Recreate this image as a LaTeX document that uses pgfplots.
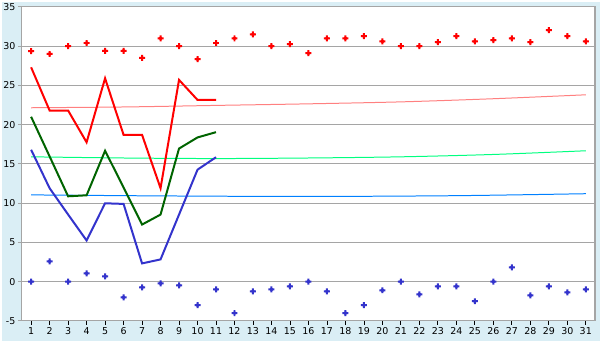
\documentclass[border=0pt]{standalone}
\usepackage{pgfplots}
\pgfplotsset{compat=1.18}
\usepackage{fontspec}
\setmainfont{DejaVu Sans}
\definecolor{bgc}{RGB}{218,238,245}
\definecolor{gridc}{RGB}{165,165,165}
\definecolor{redc}{RGB}{255,0,0}
\definecolor{greenc}{RGB}{0,100,0}
\definecolor{bluec}{RGB}{51,51,204}
\definecolor{pinkc}{RGB}{255,128,128}
\definecolor{lgreenc}{RGB}{0,255,128}
\definecolor{lbluec}{RGB}{0,128,255}
\pgfdeclareplotmark{fplus}{%
  \pgfpathmoveto{\pgfqpoint{-1pt}{-3pt}}%
  \pgfpathlineto{\pgfqpoint{1pt}{-3pt}}%
  \pgfpathlineto{\pgfqpoint{1pt}{-1pt}}%
  \pgfpathlineto{\pgfqpoint{3pt}{-1pt}}%
  \pgfpathlineto{\pgfqpoint{3pt}{1pt}}%
  \pgfpathlineto{\pgfqpoint{1pt}{1pt}}%
  \pgfpathlineto{\pgfqpoint{1pt}{3pt}}%
  \pgfpathlineto{\pgfqpoint{-1pt}{3pt}}%
  \pgfpathlineto{\pgfqpoint{-1pt}{1pt}}%
  \pgfpathlineto{\pgfqpoint{-3pt}{1pt}}%
  \pgfpathlineto{\pgfqpoint{-3pt}{-1pt}}%
  \pgfpathlineto{\pgfqpoint{-1pt}{-1pt}}%
  \pgfpathclose
  \pgfusepathqfill
  \pgfpathmoveto{\pgfqpoint{0pt}{-2.2pt}}%
  \pgfpathlineto{\pgfqpoint{2.2pt}{0pt}}%
  \pgfpathlineto{\pgfqpoint{0pt}{2.2pt}}%
  \pgfpathlineto{\pgfqpoint{-2.2pt}{0pt}}%
  \pgfpathclose
  \pgfusepathqfill
}
\begin{document}
\begin{tikzpicture}
\fill[bgc] (-20pt,-20pt) rectangle (580pt,320pt);
\begin{axis}[
  scale only axis,
  width=575pt, height=315pt,
  xmin=0.5, xmax=31.5, ymin=-5, ymax=35,
  xtick={1,...,31}, ytick={-5,0,...,35},
  axis background/.style={fill=white},
  axis line style={gridc, line width=1.2pt},
  ymajorgrids, grid style={gridc, line width=1.1pt},
  tick align=outside, major tick length=4pt,
  xtick style={black, line width=0.8pt},
  ytick style={gridc, line width=0.8pt},
  x axis line style={-}, y axis line style={-},
  axis x line*=bottom, axis y line*=left,
  tick label style={font=\fontsize{9.5}{11}\selectfont, text=black},
  xticklabel style={yshift=1pt},
  yticklabel style={xshift=1pt},
  /pgf/number format/assume math mode=true,
  clip=false,
]
% frame (top and right)
\draw[gridc, line width=1.2pt] (rel axis cs:0,1) -- (rel axis cs:1,1) -- (rel axis cs:1,0);
% trend lines
\addplot[pinkc, line width=1pt, smooth] coordinates {(1,22.15)(6,22.25)(11,22.45)(16,22.65)(21,22.9)(26,23.3)(31,23.8)};
\addplot[lgreenc, line width=1pt, smooth] coordinates {(1,15.9)(6,15.75)(11,15.68)(16,15.75)(21,15.9)(26,16.2)(31,16.67)};
\addplot[lbluec, line width=1pt, smooth] coordinates {(1,11.05)(8,10.92)(16,10.85)(24,10.95)(31,11.2)};
% data lines
\addplot[redc, line width=2pt] coordinates {(1,27.3)(2,21.8)(3,21.8)(4,17.75)(5,25.9)(6,18.7)(7,18.7)(8,11.9)(9,25.7)(10,23.15)(11,23.15)};
\addplot[greenc, line width=2pt] coordinates {(1,21.0)(2,15.95)(3,10.87)(4,11.0)(5,16.67)(6,12.0)(7,7.27)(8,8.54)(9,16.95)(10,18.37)(11,19.04)};
\addplot[bluec, line width=2pt] coordinates {(1,16.8)(2,11.9)(3,8.55)(4,5.24)(5,9.98)(6,9.9)(7,2.32)(8,2.83)(9,8.54)(10,14.26)(11,15.85)};
% markers
\addplot[only marks, redc, mark=fplus] coordinates {
(1,29.37)(2,29.0)(3,30.0)(4,30.4)(5,29.4)(6,29.4)(7,28.5)(8,31.0)(9,30.0)(10,28.35)
(11,30.4)(12,31.0)(13,31.5)(14,30.0)(15,30.25)(16,29.1)(17,31.0)(18,31.0)(19,31.27)(20,30.6)
(21,30.0)(22,30.0)(23,30.5)(24,31.27)(25,30.6)(26,30.77)(27,31.0)(28,30.5)(29,32.04)(30,31.27)(31,30.6)};
\addplot[only marks, bluec, mark=fplus] coordinates {
(1,0)(2,2.58)(3,0)(4,1.05)(5,0.67)(6,-2.0)(7,-0.72)(8,-0.22)(9,-0.47)(10,-3.0)
(11,-1.0)(12,-4.0)(13,-1.23)(14,-1.0)(15,-0.6)(16,0)(17,-1.23)(18,-4.0)(19,-3.0)(20,-1.1)
(21,0)(22,-1.61)(23,-0.6)(24,-0.6)(25,-2.5)(26,0)(27,1.82)(28,-1.74)(29,-0.6)(30,-1.36)(31,-1.0)};
\end{axis}
\end{tikzpicture}
\end{document}
